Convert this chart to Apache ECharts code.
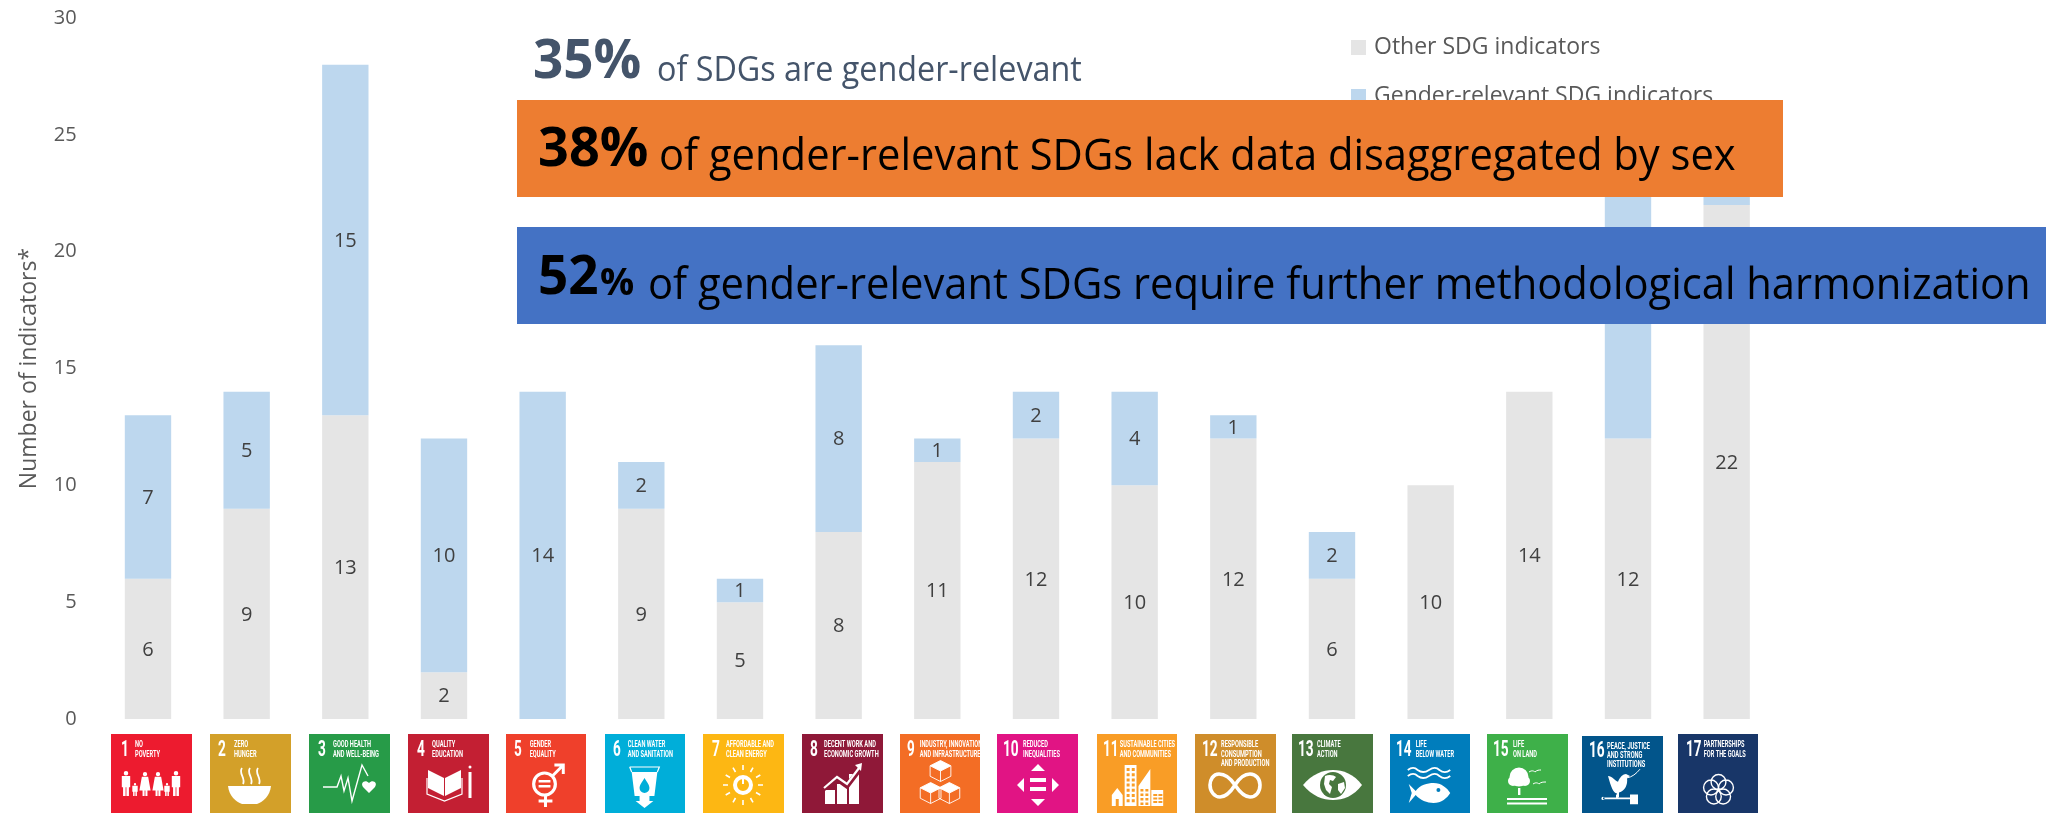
<!DOCTYPE html>
<html><head><meta charset="utf-8">
<style>html,body{margin:0;padding:0;background:#fff}#c{width:2046px;height:813px}</style>
<script src="https://cdn.jsdelivr.net/npm/echarts@6/dist/echarts.min.js"></script>
</head><body><div id="c"></div>
<script>
const categories = ['1','2','3','4','5','6','7','8','9','10','11','12','13','14','15','16','17'];
const otherIndicators = [6,9,13,2,0,9,5,8,11,12,10,12,6,10,14,12,22];
const genderIndicators = [7,5,15,10,14,2,1,8,1,2,4,1,2,0,0,11,2];
const yTicks = {min:0,max:30,interval:5};
const seriesNames = ['Other SDG indicators','Gender-relevant SDG indicators'];
const yTitle = 'Number of indicators*';
const goalLabels = [
 ['NO','POVERTY'],['ZERO','HUNGER'],['GOOD HEALTH','AND WELL-BEING'],['QUALITY','EDUCATION'],['GENDER','EQUALITY'],
 ['CLEAN WATER','AND SANITATION'],['AFFORDABLE AND','CLEAN ENERGY'],['DECENT WORK AND','ECONOMIC GROWTH'],
 ['INDUSTRY, INNOVATION','AND INFRASTRUCTURE'],['REDUCED','INEQUALITIES'],['SUSTAINABLE CITIES','AND COMMUNITIES'],
 ['RESPONSIBLE','CONSUMPTION','AND PRODUCTION'],['CLIMATE','ACTION'],['LIFE','BELOW WATER'],['LIFE','ON LAND'],
 ['PEACE, JUSTICE','AND STRONG','INSTITUTIONS'],['PARTNERSHIPS','FOR THE GOALS']];

// layout and style of the goal tiles
const tileColors = ['#ED1B2F','#D3A029','#279B48','#C31F33','#EF402B','#00AED9','#FDB713','#8F1838','#F36D25','#E11484','#F99D26','#CF8D2A','#48773E','#007DBC','#3EB049','#02558B','#183668'];
const tileX = [111,210,309,408,506,605,703,802,900,997,1097,1195,1292,1390,1487,1582,1678];
const tileW = [81,81,81,81,80,80,81,81,80,81,80,81,81,80,81,81,80];
const numX = [10,8,9,9,8,8,9,8,7,6,6,7,6,6,6,7,8];
const lblX = [24,24,24,24,24,23,23,22,20,26,23,26,25,26,26,25,26];

const FONT='"Open Sans"', NARROW='"Roboto"';
const circ=(x,y,r)=>`M${x-r} ${y}a${r} ${r} 0 1 0 ${2*r} 0a${r} ${r} 0 1 0 ${-2*r} 0Z`;
const rect=(x,y,w,h)=>`M${x} ${y}h${w}v${h}h${-w}Z`;
const person=(cx,top,h,w,dress)=>{
  const r=h*0.09, s=top+2*r+0.5, hip=s+h*0.45, b=top+h;
  return circ(cx,top+r,r)+(dress
   ?`M${cx-w*0.45} ${s}H${cx+w*0.45}L${cx+w*0.8} ${hip+h*0.12}H${cx+w*0.35}V${b}H${cx+0.4}V${hip+h*0.12}H${cx-0.4}V${b}H${cx-w*0.35}V${hip+h*0.12}H${cx-w*0.8}Z`
   :`M${cx-w*0.6} ${s}H${cx+w*0.6}V${hip}H${cx+w*0.42}V${b}H${cx+0.4}V${hip}H${cx-0.4}V${b}H${cx-w*0.42}V${hip}H${cx-w*0.6}Z`);
};
const cube=(cx,cy,r)=>({top:`M${cx} ${cy-r}L${cx+r} ${cy-r/2}L${cx} ${cy}L${cx-r} ${cy-r/2}Z`,
  line:`M${cx} ${cy-r}L${cx+r} ${cy-r/2}V${cy+r/2}L${cx} ${cy+r}L${cx-r} ${cy+r/2}V${cy-r/2}ZM${cx-r} ${cy-r/2}L${cx} ${cy}L${cx+r} ${cy-r/2}M${cx} ${cy}V${cy+r}`});
const sunRays=()=>{let d='';for(let i=0;i<12;i++){const a=i*Math.PI/6,c=Math.cos(a),s=Math.sin(a);
  d+=`M${40+c*15} ${51+s*15}L${40+c*20} ${51+s*20}`;}return d;};
const windows=(x,y,cols,rows,w,h,gx,gy)=>{let d='';for(let r=0;r<rows;r++)for(let c=0;c<cols;c++)d+=rect(x+c*(w+gx),y+r*(h+gy),w,h);return d;};
const F=d=>({d,fill:'#fff'}), S=(d,lw)=>({d,stroke:'#fff',lw:lw||2}), C=d=>({d,cut:true}), CS=(d,lw)=>({d,cutStroke:true,lw:lw||1});
const c5=[0,1,2,3,4].map(i=>{const a=-Math.PI/2+i*2*Math.PI/5;return circ(41+Math.cos(a)*8,56+Math.sin(a)*8,7.5);}).join('');

const icons=[
 [F(person(15,37,25,7)+person(24,49,13,4.5)+person(34,38,24,7,1)+person(47,38,24,7,1)+person(56,49,13,4.5)+person(65,37,25,7))],
 [F('M18 52H61C60 62 53 68 47 70H32C26 68 19 62 18 52Z'),S('M32 34C28 39 36 44 33 50M40 34C36 39 44 44 41 50M48 34C44 39 52 44 49 50',1.8)],
 [S('M14 53H28L32 42L35 57L39 44L43 67L53 31L59 42',1.4),F('M60 59L54 53C51 49 56 45 60 49C64 45 69 49 66 53Z')],
 [F('M20 36L36 44V62L20 54ZM37 44L53 36V54L37 62Z'+rect(60.5,38,3,26)+circ(62,33,1.5)),S('M19 44V60L36.5 67L54 60V44',1.2)],
 [S(circ(39,50,11),3.2),F(rect(33,46,12,2.6)+rect(33,51,12,2.6)),S('M47 42L57 32M49 31H58V40M40 61V73M33 67H47',3)],
 [F('M27 38H53L50 62H30ZM35 62H45V67H49L40 74L31 67H35Z'),S('M25 33H55L53 38M25 33L27 38',1.2),C('M40 44C37 49 35 51 35 54A5 5 0 0 0 45 54C45 51 43 49 40 44Z')],
 [S(circ(40,51,8),4),S(sunRays(),1.6),F(rect(39,43,2,7))],
 [F(rect(23,56,10,14)+rect(35,50,10,20)+rect(47,40,10,30)),CS('M20 56L35 45L45 52L58 35',5),S('M22 54L35 43L45 50L57 34',2.2),F('M53 31L60 29L59 37Z')],
 (()=>{const a=cube(41,37,10.5),b=cube(31,59,10.5),c=cube(50,59,10.5);return [S(a.line+b.line+c.line,0.9),F(a.top+b.top+c.top)];})(),
 [F('M41 30L48 37H34ZM41 72L48 65H34ZM20 51L27 44V58ZM62 51L55 44V58Z'+rect(33,44,16,4)+rect(33,53,16,4))],
 [F('M15 61L20.5 54L26 61V72H15ZM28 31H40V72H28ZM42 72V52L54 35V72ZM55 56H67V72H55Z'),C(windows(30,34,2,7,3,3,2.2,2.2)+windows(44,55,2,4,3,2.5,2,2)+windows(57,60,2,3,4,2,1.2,1.5)+rect(19,65,3,7))],
 [S('M40 51C34 42 28 40 24 40C18 40 15 46 15 51C15 57 19 63 25 63C30 63 35 59 40 51C45 43 50 40 55 40C61 40 65 45 65 51C65 58 61 63 55 63C50 63 46 60 40 51',3.6)],
 [F('M11 51C20 40 31 36 41 36C51 36 62 40 70 51C62 62 51 66 41 66C31 66 20 62 11 51Z'),C(circ(41,51,13)),F('M33 42C37 40 42 41 44 43L41 47L38 46L37 50L40 53L38 60L34 56L32 50ZM46 50L52 48L53 54L49 60L46 56Z')],
 [S('M18 36C22 33 25 33 28 36C32 39 35 39 39.5 36C44 33 47 33 50 36C54 39 57 39 61 36M18 42C22 39 25 39 28 42C32 45 35 45 39.5 42C44 39 47 39 50 42C54 45 57 45 61 42',1.8),
  F('M19 50L26 57C30 51 38 49 44 49C52 49 58 54 61 59C58 64 52 69 44 69C38 69 30 66 26 61L19 69L22 59Z'),C(circ(49,56,2))],
 [F(circ(32,43,9.5)+circ(26,47,5)+circ(38,47,5)+rect(31,54,2.4,7)+rect(20,64,40,2)+rect(20,68.5,40,2)),S('M42 38C45 36 47 37 48 38C50 36 52 36 54 36M46 50C49 48 51 49 52 50C54 48 56 48 59 48',1)],
 [F('M26 41C30 41 33 46 36 47C38 42 41 39 44 39L48 41L45 43C46 50 43 56 37 58L37 63H35V59C31 58 29 52 26 41Z'),S('M45 43C50 42 54 39 58 34',1),F(rect(21,63,27,2)+rect(48,60,8,10)+rect(34,60,2,4)+circ(21,64,1.6))],
 [S(c5,1.4)]
];

let shapeId=0;
const regPath=d=>{const name='sdgIcon'+(shapeId++);echarts.graphic.registerShape(name,echarts.graphic.extendPath(d));return name;};
const graphic=[];
const push=e=>{graphic.push(e);return e;};
categories.forEach((num,i)=>{
  const big=i===15, y=big?736:734, h=big?77:79;
  const children=[{type:'rect',z:10,shape:{x:0,y:0,width:81,height:79},style:{fill:tileColors[i]}}];
  icons[i].forEach(p=>{
    const st=p.cut?{fill:tileColors[i],stroke:null}:p.cutStroke?{fill:null,stroke:tileColors[i],lineWidth:p.lw}:p.fill?{fill:p.fill,stroke:null}:{fill:null,stroke:p.stroke,lineWidth:p.lw};
    children.push({type:regPath(p.d),z:11,style:st});
  });
  children.push({type:'text',z:12,x:numX[i],y:16,scaleX:0.62,style:{text:num,x:0,y:0,fill:'#fff',font:`bold 22px ${NARROW}`,verticalAlign:'middle',align:'left'}});
  goalLabels[i].forEach((t,k)=>children.push({type:'text',z:12,x:lblX[i],y:11+k*9.2,scaleX:0.6,style:{text:t,x:0,y:0,fill:'#fff',font:`bold 9.5px ${NARROW}`,verticalAlign:'middle',align:'left'}}));
  push({type:'group',z:10,x:tileX[i],y:y,scaleX:tileW[i]/81,scaleY:h/79,children});
});
const bannerText=(text,x,y,size,bold,fill,sx)=>({type:'text',z:101,x:x,y:y,scaleX:sx||1,
  style:{text,x:0,y:0,fill,font:`${bold?'bold ':''}${size}px ${FONT}`,verticalAlign:'middle',align:'left'}});
push({type:'rect',z:100,shape:{x:517,y:100,width:1266,height:97},style:{fill:'#ED7D31'}});
push({type:'rect',z:100,shape:{x:517,y:227,width:1529,height:97},style:{fill:'#4472C4'}});
push(bannerText('35%',533,63,53,true,'#44546A'));
push(bannerText('of SDGs are gender-relevant',657,71,34,false,'#44546A',0.95));
push(bannerText('38%',538,151,54,true,'#000'));
push(bannerText('of gender-relevant SDGs lack data disaggregated by sex',659,157,44,false,'#000',0.948));
push(bannerText('52',538,279,53,true,'#000'));
push(bannerText('%',600,284,38,true,'#000'));
push(bannerText('of gender-relevant SDGs require further methodological harmonization',648,286,44,false,'#000',0.948));

const lbl={show:true,position:'inside',offset:[0,1],fontSize:20,fontFamily:FONT,color:'#404040',formatter:p=>p.value===0?'':p.value};
const chart=echarts.init(document.getElementById('c'),null,{renderer:'canvas'});
chart.setOption({
  animation:false,
  textStyle:{fontFamily:FONT},
  grid:{left:98.65,right:270,top:18,bottom:94,containLabel:false},
  legend:{show:true,orient:'vertical',left:1346,top:31,itemWidth:15,itemHeight:15,itemGap:26,icon:'rect',
    data:seriesNames,textStyle:{fontFamily:FONT,fontSize:23,color:'#595959',padding:[0,0,0,3]}},
  xAxis:{type:'category',data:categories,axisLine:{show:false},axisTick:{show:false},axisLabel:{show:false},splitLine:{show:false}},
  yAxis:{type:'value',min:yTicks.min,max:yTicks.max,interval:yTicks.interval,name:yTitle,nameLocation:'middle',nameGap:58,
    nameTextStyle:{fontFamily:FONT,fontSize:23,color:'#595959'},axisLine:{show:false},axisTick:{show:false},splitLine:{show:false},
    axisLabel:{margin:22,fontFamily:FONT,fontSize:20,color:'#595959',verticalAlign:'middle',padding:[2,0,0,0]}},
  series:[
    {name:seriesNames[0],type:'bar',stack:'a',barWidth:'47%',data:otherIndicators,itemStyle:{color:'#E5E5E5'},label:lbl},
    {name:seriesNames[1],type:'bar',stack:'a',barWidth:'47%',data:genderIndicators,itemStyle:{color:'#BDD7EE'},label:lbl}
  ],
  graphic:{elements:graphic}
});
</script></body></html>
